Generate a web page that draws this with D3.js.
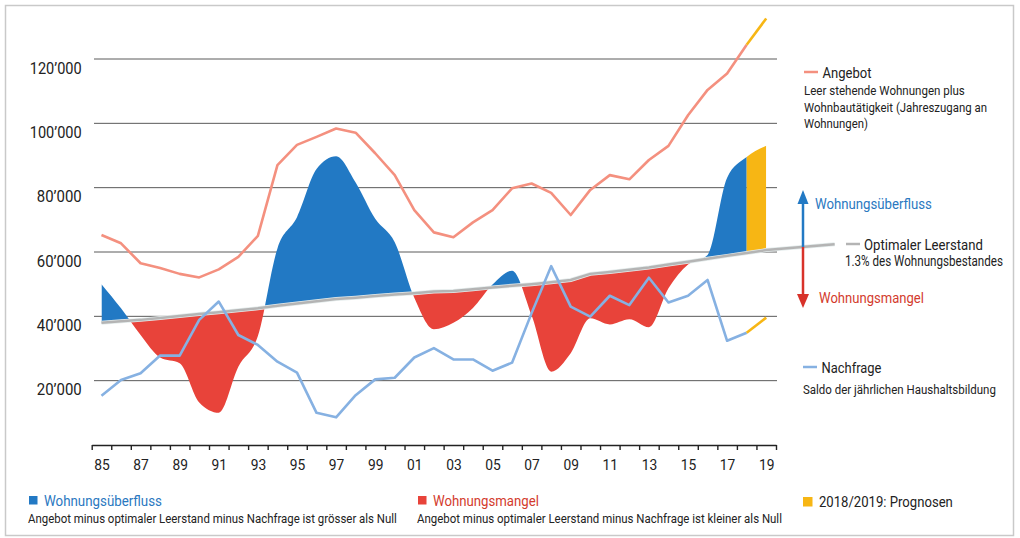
<!DOCTYPE html>
<html>
<head>
<meta charset="utf-8">
<script src="https://cdn.jsdelivr.net/npm/d3@7"></script>
<style>
body { margin: 0; background: #fff; }
text { font-family: "Liberation Sans Narrow", "Roboto", sans-serif; fill: #222; }
</style>
</head>
<body>
<svg id="chart" width="1020" height="538"></svg>
<script>
// Jahre 1985 - 2019
const years = d3.range(1985, 2020);

// Angebot: leer stehende Wohnungen plus Wohnbautätigkeit
const angebot = [65300, 62700, 56500, 55000, 53200, 52100, 54600, 58500, 65000, 87000,
	93300, 95800, 98400, 97100, 90700, 83900, 73000, 66100, 64600, 69200,
	73000, 79800, 81300, 78400, 71500, 79300, 83900, 82600, 88600, 93000,
	102500, 110400, 115500, 124400, 132600];

// Nachfrage: Saldo der jährlichen Haushaltsbildung
const nachfrage = [15300, 20200, 22300, 27800, 27800, 38900, 44600, 34200, 31100, 25900,
	22500, 10000, 8600, 15500, 20400, 20900, 27200, 30100, 26600, 26600,
	23100, 25600, 41000, 55600, 43000, 39900, 46400, 43500, 52000, 44300,
	46400, 51300, 32400, 34900, 39600];

// Optimaler Leerstand: 1.3% des Wohnungsbestandes
const leerstand = [38000, 38500, 38900, 39500, 40100, 40700, 41300, 41900, 42500, 43300,
	44000, 44700, 45400, 45800, 46300, 46800, 47200, 47700, 47900, 48400,
	49000, 49500, 50000, 50600, 51300, 53200, 53800, 54500, 55200, 56100,
	57000, 57900, 58800, 59700, 60600];
// Verlängerung der Leerstand-Linie bis zur Legende
const leerstandEnde = { year: 2022.5, value: 62400 };

const prognoseStart = 2018;
const yTicks = [20000, 40000, 60000, 80000, 100000, 120000];
const xLabelYears = d3.range(1985, 2020, 2);
const xTickYears = d3.range(1984.5, 2020, 1);

const colors = {
	angebot: "#f4907f",
	nachfrage: "#86b1e2",
	leerstand: "#b4b4b4",
	ueberfluss: "#2279c4",
	mangel: "#e8433a",
	prognose: "#f7b614",
	blueText: "#2a78bf",
	redText: "#d33b2d",
	grid: "#5a5a5a"
};

const svg = d3.select("#chart");

const x = d3.scaleLinear().domain([1984.5, 2019.5]).range([91.7, 776]);
const y = d3.scaleLinear().domain([0, 120000]).range([445, 59]);

const rows = years.map((yr, i) => ({
	year: yr,
	a: angebot[i],
	n: nachfrage[i],
	l: leerstand[i],
	saldo: angebot[i] - nachfrage[i]
}));

// squeeze a text horizontally to the width it has in the print (condensed face)
const condense = (sel, width) => {
	const natural = sel.node().getComputedTextLength();
	const k = Math.min(1, width / natural);
	const tx = +sel.attr("x"), ty = +sel.attr("y");
	sel.attr("x", null).attr("y", null)
		.attr("transform", `translate(${tx},${ty}) scale(${k},1)`);
	return sel;
};

// scan frame
svg.append("rect")
	.attr("x", 5.5).attr("y", 5.5)
	.attr("width", 1008).attr("height", 530)
	.attr("fill", "none")
	.attr("stroke", "#c9c9c9")
	.attr("stroke-width", 1.5);

// gridlines
svg.append("g")
	.selectAll("line")
	.data(yTicks)
	.enter()
	.append("line")
	.attr("x1", 94)
	.attr("x2", 777)
	.attr("y1", (d) => y(d))
	.attr("y2", (d) => y(d))
	.attr("stroke", colors.grid)
	.attr("stroke-width", 1);

// y labels
svg.append("g")
	.selectAll("text")
	.data(yTicks)
	.enter()
	.append("text")
	.attr("x", 81.7)
	.attr("y", (d) => y(d) + 14.5)
	.attr("text-anchor", "end")
	.attr("font-size", 16)
	.text((d) => d3.format(",")(d).replace(",", "\u2019"))
	.each(function(d) { condense(d3.select(this), d >= 100000 ? 52 : 45); });

// areas
const curve = d3.curveMonotoneX;
const saldoArea = d3.area()
	.curve(curve)
	.x((d) => x(d.year))
	.y0((d) => y(d.l))
	.y1((d) => y(d.saldo));

const defs = svg.append("defs");
const aboveGray = (data) => d3.area().curve(curve).x((d) => x(d.year)).y0((d) => y(d.l)).y1(0)(data);
const belowGray = (data) => d3.area().curve(curve).x((d) => x(d.year)).y0((d) => y(d.l)).y1(538)(data);

defs.append("clipPath").attr("id", "clipBlue")
	.append("path").attr("d", aboveGray(rows.filter((d) => d.year <= prognoseStart)));
defs.append("clipPath").attr("id", "clipRed")
	.append("path").attr("d", belowGray(rows));
defs.append("clipPath").attr("id", "clipOrange")
	.append("path").attr("d", aboveGray(rows.filter((d) => d.year >= prognoseStart)));

svg.append("path")
	.attr("d", saldoArea(rows))
	.attr("fill", colors.ueberfluss)
	.attr("clip-path", "url(#clipBlue)");
svg.append("path")
	.attr("d", saldoArea(rows))
	.attr("fill", colors.mangel)
	.attr("clip-path", "url(#clipRed)");
svg.append("path")
	.attr("d", saldoArea(rows))
	.attr("fill", colors.prognose)
	.attr("clip-path", "url(#clipOrange)");

// optimal vacancy line
const grayPoints = rows.map((d) => ({ year: d.year, v: d.l })).concat([{ year: leerstandEnde.year, v: leerstandEnde.value }]);
const grayLine = d3.line().x((d) => x(d.year)).y((d) => y(d.v));
svg.append("path")
	.attr("d", grayLine(grayPoints))
	.attr("fill", "none")
	.attr("stroke", "#e4ecec")
	.attr("stroke-width", 4);
svg.append("path")
	.attr("d", grayLine(grayPoints))
	.attr("fill", "none")
	.attr("stroke", colors.leerstand)
	.attr("stroke-width", 2.5);

// supply and demand lines
const drawLine = (key, color) => {
	const line = d3.line().x((d) => x(d.year)).y((d) => y(d[key]));
	svg.append("path")
		.attr("d", line(rows.filter((d) => d.year <= prognoseStart)))
		.attr("fill", "none")
		.attr("stroke", color)
		.attr("stroke-width", 2.6)
		.attr("stroke-linejoin", "round");
	svg.append("path")
		.attr("d", line(rows.filter((d) => d.year >= prognoseStart)))
		.attr("fill", "none")
		.attr("stroke", colors.prognose)
		.attr("stroke-width", 2.6);
};
drawLine("a", colors.angebot);
drawLine("n", colors.nachfrage);

// x axis
const axisTicks = svg.append("g")
	.attr("transform", "translate(0,445)")
	.call(d3.axisBottom(x).tickValues(xTickYears).tickSize(5).tickSizeOuter(0).tickFormat(""));
axisTicks.select(".domain").attr("stroke", "#222").attr("stroke-width", 1.6);
axisTicks.selectAll(".tick line").attr("stroke", "#222").attr("stroke-width", 1.4);

const axisLabels = svg.append("g")
	.attr("transform", "translate(0,445)")
	.call(d3.axisBottom(x).tickValues(xLabelYears).tickSize(0).tickPadding(14)
		.tickFormat((d) => String(d).slice(2)));
axisLabels.select(".domain").remove();
axisLabels.selectAll("text")
	.attr("font-size", 15)
	.attr("font-family", "Liberation Sans Narrow, Roboto, sans-serif")
	.attr("fill", "#222")
	.attr("textLength", 15.5)
	.attr("lengthAdjust", "spacingAndGlyphs");

// arrows
const arrowX = 803;
const arrowYear = x.invert(arrowX);
const arrowBase = y(leerstand[leerstand.length - 1] +
	(leerstandEnde.value - leerstand[leerstand.length - 1]) * (arrowYear - 2019) / (leerstandEnde.year - 2019));

svg.append("line")
	.attr("x1", arrowX).attr("x2", arrowX)
	.attr("y1", arrowBase).attr("y2", 200)
	.attr("stroke", colors.ueberfluss).attr("stroke-width", 2.5);
svg.append("path")
	.attr("d", `M${arrowX - 5.5},204 L${arrowX},190 L${arrowX + 5.5},204 Z`)
	.attr("fill", colors.ueberfluss);
svg.append("line")
	.attr("x1", arrowX).attr("x2", arrowX)
	.attr("y1", arrowBase).attr("y2", 298)
	.attr("stroke", "#d8322a").attr("stroke-width", 2.5);
svg.append("path")
	.attr("d", `M${arrowX - 6},294 L${arrowX},308 L${arrowX + 6},294 Z`)
	.attr("fill", "#d8322a");

// right legend
const dash = (x1, yy, color) => svg.append("line")
	.attr("x1", x1).attr("x2", x1 + 14)
	.attr("y1", yy).attr("y2", yy)
	.attr("stroke", color).attr("stroke-width", 2.5);

const label = (tx, ty, str, size, width, color) => {
	const t = svg.append("text")
		.attr("x", tx).attr("y", ty)
		.attr("font-size", size)
		.style("fill", color || "#222")
		.text(str);
	return condense(t, width);
};

dash(804, 72, colors.angebot);
label(822.5, 77.5, "Angebot", 15.5, 49);
label(804, 94.5, "Leer stehende Wohnungen plus", 12.8, 161);
label(804, 111.5, "Wohnbautätigkeit (Jahreszugang an", 12.8, 183);
label(804, 128, "Wohnungen)", 12.8, 64);

label(815, 208.5, "Wohnungsüberfluss", 15.5, 117, colors.blueText);

dash(846, 244, colors.leerstand);
label(864, 249.5, "Optimaler Leerstand", 15.5, 119);
label(845, 266, "1.3% des Wohnungsbestandes", 14, 158);

label(819, 302.5, "Wohnungsmangel", 15.5, 105, colors.redText);

dash(803, 367, colors.nachfrage);
label(821.5, 372.5, "Nachfrage", 15.5, 60);
label(803, 394, "Saldo der jährlichen Haushaltsbildung", 12.8, 193);

// bottom legend
const square = (sx, sy, size, color) => svg.append("rect")
	.attr("x", sx).attr("y", sy)
	.attr("width", size).attr("height", size)
	.attr("fill", color);

square(29, 496, 8.5, colors.ueberfluss);
label(44, 506, "Wohnungsüberfluss", 15.5, 118, colors.blueText);
label(28, 522.5, "Angebot minus optimaler Leerstand minus Nachfrage ist grösser als Null", 13, 369);

square(418, 496, 8.5, colors.mangel);
label(433, 506, "Wohnungsmangel", 15.5, 106, colors.redText);
label(417, 522.5, "Angebot minus optimaler Leerstand minus Nachfrage ist kleiner als Null", 13, 365);

square(803, 497, 9.5, colors.prognose);
label(819, 507, "2018/2019: Prognosen", 15.5, 134);
</script>
</body>
</html>
